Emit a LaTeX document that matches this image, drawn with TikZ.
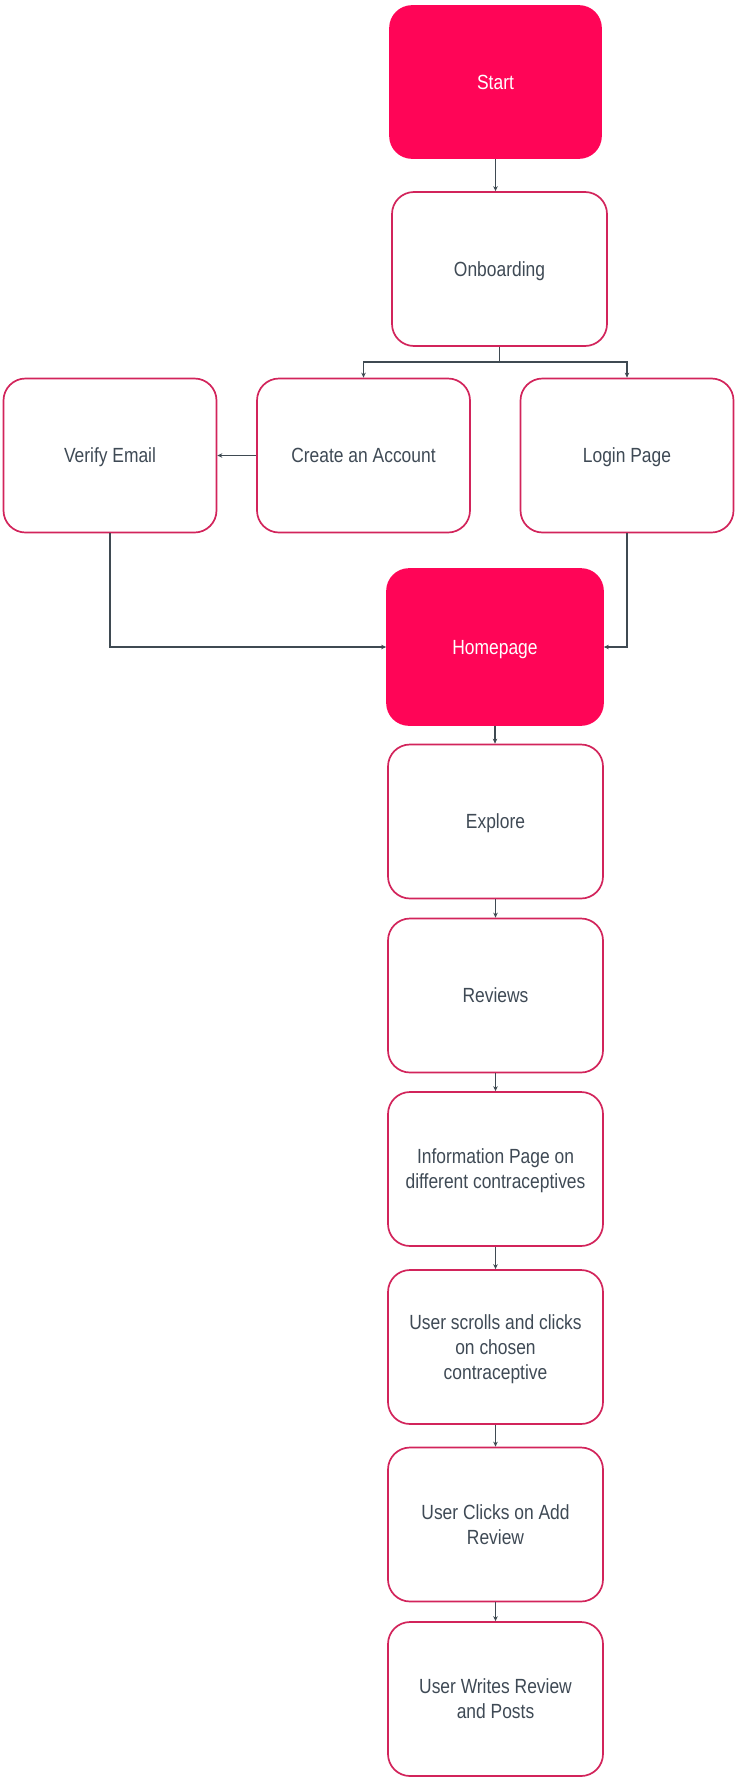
\documentclass[tikz,border=0pt]{standalone}
\usepackage{fontspec}
\setmainfont[FakeStretch=0.85]{Liberation Sans}
\usetikzlibrary{arrows.meta}
\definecolor{edgec}{HTML}{3F4A52}
\definecolor{boxc}{HTML}{D2245B}
\definecolor{fillc}{HTML}{FF0557}
\definecolor{textc}{HTML}{3F4A55}
\tikzset{
  box/.style={draw=boxc, line width=1.7pt, rounded corners=22pt, fill=white,
    minimum width=213pt, minimum height=154pt, inner sep=0pt, align=center,
    text depth=0pt,
    font=\fontsize{20.5}{25}\selectfont, text=textc},
  keybox/.style={box, draw=fillc, fill=fillc, text=white},
  arr/.style={draw=edgec, line width=1.5pt, -{Stealth[length=5pt,width=4.5pt]}},
  ln/.style={draw=edgec, line width=1.5pt}
}
\begin{document}
\begin{tikzpicture}[x=1pt,y=1pt]
\useasboundingbox (0,0) rectangle (737,-1785);
\node[keybox, minimum width=211pt, minimum height=152pt] (start) at (495.5,-82) {Start};
\node[box, minimum width=215pt] (onb) at (499.5,-269) {Onboarding};
\node[box] (verify) at (110,-455.5) {Verify Email};
\node[box] (create) at (363.5,-455.5) {Create an Account};
\node[box] (login) at (627,-455.5) {Login Page};
\node[keybox, minimum width=216pt, minimum height=156pt] (home) at (495,-647) {Homepage};
\node[box, minimum width=215pt] (explore) at (495.5,-821.5) {Explore};
\node[box, minimum width=215pt] (reviews) at (495.5,-995.5) {Reviews};
\node[box, minimum width=215pt] (info) at (495.5,-1169) {Information Page on\\different contraceptives};
\node[box, minimum width=215pt] (scroll) at (495.5,-1347) {User scrolls and clicks\\on chosen\\contraceptive};
\node[box, minimum width=215pt] (clicks) at (495.5,-1524.5) {User Clicks on Add\\Review};
\node[box, minimum width=215pt] (writes) at (495.5,-1699) {User Writes Review\\and Posts};
\coordinate (br) at (499.5,-362);
\draw[arr] (start.south) -- (start.south |- onb.north);
\draw[ln] (onb.south) -- (br);
\draw[arr] (br) -| (create.north);
\draw[arr] (br) -| (login.north);
\draw[arr] (create.west) -- (verify.east);
\draw[arr] (verify.south) |- (home.west);
\draw[arr] (login.south) |- (home.east);
\draw[arr] (home.south) -- (home.south |- explore.north);
\draw[arr] (explore.south) -- (reviews.north);
\draw[arr] (reviews.south) -- (info.north);
\draw[arr] (info.south) -- (scroll.north);
\draw[arr] (scroll.south) -- (clicks.north);
\draw[arr] (clicks.south) -- (writes.north);
\end{tikzpicture}
\end{document}
